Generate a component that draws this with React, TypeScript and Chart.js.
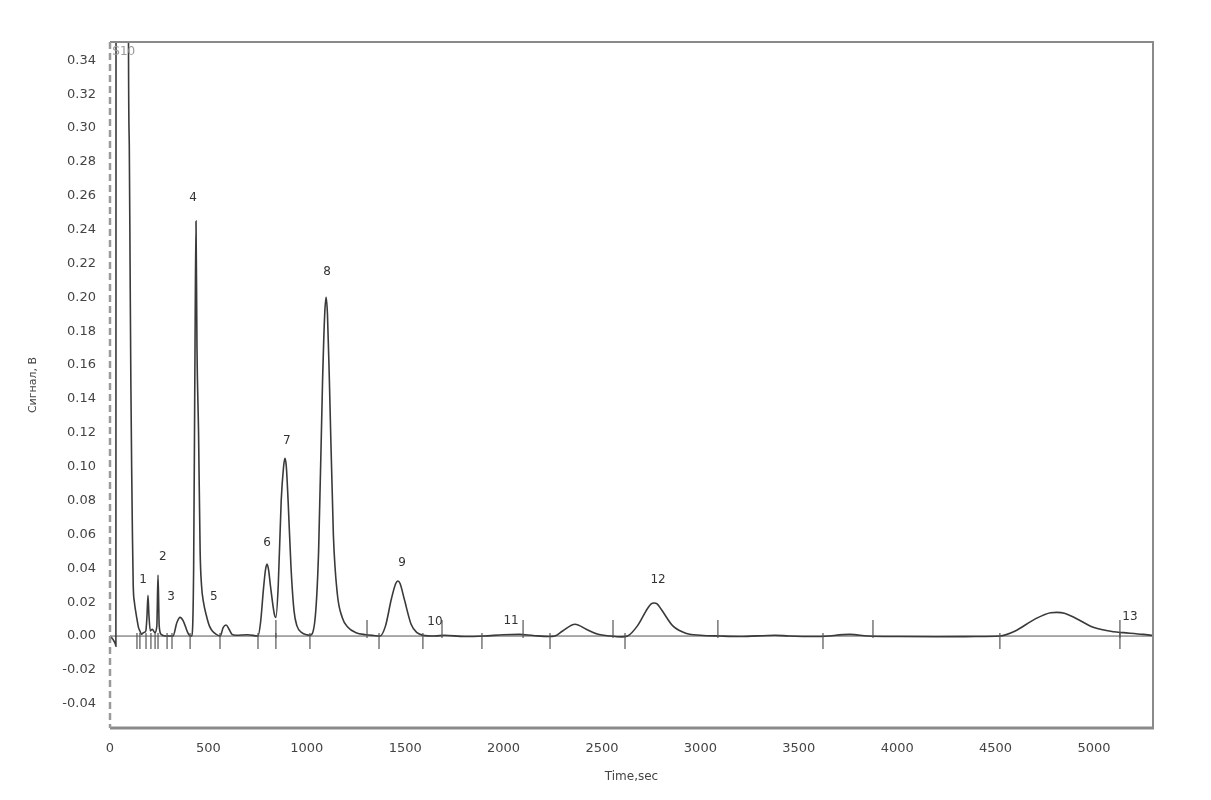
import React, { useEffect, useRef } from "react";
import { Chart, registerables } from "chart.js";

Chart.register(...registerables);

// ---- data (time in seconds, signal in volts) ----
const timeSec = [
  0, 15, 28, 30, 31, 90, 92, 94, 98, 102, 106, 110, 114, 118, 124, 130, 137, 145, 152, 160, 170,
  182, 188, 193, 198, 205, 215, 228, 238, 244, 250, 260, 280, 300,
  320, 340, 356, 372, 395, 408,
  416, 425, 432, 437, 442, 450, 458, 465, 475, 490, 505, 520, 540,
  560, 575, 590, 605, 620, 640, 700, 752,
  765, 780, 790, 798, 806, 815, 835, 843,
  855, 870, 882, 889, 896, 905, 920, 935, 950, 975, 1000, 1016,
  1040, 1060, 1080, 1091, 1098, 1105, 1115, 1135, 1155, 1180, 1210, 1250, 1300, 1340,
  1372, 1400, 1430, 1452, 1463, 1474, 1495, 1530, 1560, 1590,
  1650, 1700, 1800, 1900, 2000, 2080, 2150, 2230,
  2260, 2300, 2363, 2420, 2480, 2540, 2600,
  2630, 2680, 2730, 2750, 2764, 2780, 2800, 2860, 2930, 3000, 3100,
  3200, 3380, 3450, 3600, 3760, 3850, 4000, 4200, 4400, 4522,
  4600, 4700, 4780, 4812, 4850, 4900, 5000, 5100, 5150, 5250, 5300,
];
const signalV = [
  0.0, -0.002, -0.005, -0.006, 0.6, 0.6, 0.6, 0.35, 0.29, 0.22, 0.15, 0.1, 0.06, 0.03, 0.02, 0.015, 0.01, 0.005, 0.003, 0.001, 0.002,
  0.003, 0.012, 0.024, 0.012, 0.003, 0.004, 0.002, 0.006, 0.036, 0.006, 0.001, 0.0, 0.0,
  0.0, 0.008, 0.011, 0.009, 0.002, 0.0,
  0.0, 0.04, 0.17, 0.245, 0.17, 0.12, 0.05, 0.03, 0.02, 0.012, 0.006, 0.003, 0.001,
  0.0, 0.005, 0.0065, 0.004, 0.001, 0.0005, 0.0008, 0.0,
  0.008, 0.028, 0.039, 0.0425, 0.039, 0.03, 0.013, 0.011,
  0.03, 0.08, 0.1, 0.105, 0.1, 0.08, 0.04, 0.015, 0.006, 0.002, 0.0008, 0.0005,
  0.008, 0.05, 0.15, 0.19, 0.2, 0.19, 0.15, 0.06, 0.025, 0.011, 0.005, 0.002, 0.0008, 0.0003,
  0.0, 0.006, 0.022, 0.031, 0.0325, 0.031, 0.022, 0.007, 0.002, 0.0005,
  0.0, 0.0005, -0.0003, 0.0, 0.0008, 0.001, 0.0003, -0.0003,
  0.0, 0.003, 0.007, 0.004, 0.001, 0.0, -0.0005,
  0.0, 0.006, 0.016, 0.019, 0.0195, 0.019, 0.016, 0.006, 0.0015, 0.0005, 0.0,
  -0.0003, 0.0005, 0.0, -0.0003, 0.001, 0.0, -0.0003, -0.0004, -0.0003, 0.0,
  0.003, 0.01, 0.0138, 0.014, 0.0135, 0.011, 0.005, 0.0025, 0.002, 0.001, 0.0003,
];

const xTickValues = [0, 500, 1000, 1500, 2000, 2500, 3000, 3500, 4000, 4500, 5000];
const yTickValues = [-0.04, -0.02, 0, 0.02, 0.04, 0.06, 0.08, 0.1, 0.12, 0.14, 0.16, 0.18, 0.2, 0.22, 0.24, 0.26, 0.28, 0.3, 0.32, 0.34];

const peakLabels = ["1", "2", "3", "4", "5", "6", "7", "8", "9", "10", "11", "12", "13"];
const peakLabelTimes = [168, 269, 310, 422, 528, 798, 899, 1103, 1484, 1651, 2038, 2785, 5183];
const peakLabelValues = [0.033, 0.0466, 0.023, 0.259, 0.023, 0.055, 0.115, 0.215, 0.043, 0.0083, 0.0089, 0.033, 0.0112];

const cornerLabel = "S10";
const cornerLabelTime = 70;
const cornerLabelValue = 0.345;

const markerBelowTimes = [137, 152, 183, 208, 229, 244, 290, 315, 407, 559, 752, 843, 1016, 1367, 1590, 1890, 2236, 2617, 3623, 4522, 5132];
const markerAboveTimes = [843, 1306, 1687, 2099, 2556, 3089, 3877, 5132];

const overlayPlugin = {
  id: "overlay",
  beforeDatasetsDraw(chart: any) {
    const { ctx, chartArea, scales } = chart;
    const y0 = scales.y.getPixelForValue(0);
    ctx.save();
    ctx.strokeStyle = "#555";
    ctx.lineWidth = 1;
    ctx.beginPath();
    ctx.moveTo(chartArea.left, y0);
    ctx.lineTo(chartArea.right, y0);
    ctx.stroke();
    ctx.restore();
  },
  afterDatasetsDraw(chart: any) {
    const { ctx, chartArea, scales } = chart;
    const { left, right, top, bottom } = chartArea;
    const xs = scales.x;
    const ys = scales.y;
    const y0 = ys.getPixelForValue(0);
    ctx.save();
    // integration markers
    ctx.strokeStyle = "#555";
    ctx.lineWidth = 1.2;
    markerBelowTimes.forEach((t) => {
      const px = xs.getPixelForValue(t);
      ctx.beginPath();
      ctx.moveTo(px, y0 - 3);
      ctx.lineTo(px, y0 + 13);
      ctx.stroke();
    });
    markerAboveTimes.forEach((t) => {
      const px = xs.getPixelForValue(t);
      ctx.beginPath();
      ctx.moveTo(px, y0 + 2);
      ctx.lineTo(px, y0 - 16);
      ctx.stroke();
    });
    // peak labels
    ctx.fillStyle = "#333";
    ctx.font = "12px 'DejaVu Sans', sans-serif";
    ctx.textAlign = "center";
    ctx.textBaseline = "middle";
    peakLabels.forEach((lab, i) => {
      ctx.fillText(lab, xs.getPixelForValue(peakLabelTimes[i]), ys.getPixelForValue(peakLabelValues[i]));
    });
    ctx.fillStyle = "#999";
    ctx.fillText(cornerLabel, xs.getPixelForValue(cornerLabelTime), ys.getPixelForValue(cornerLabelValue));
    // frame
    ctx.strokeStyle = "#8a8a8a";
    ctx.lineWidth = 2;
    ctx.setLineDash([]);
    ctx.beginPath();
    ctx.moveTo(left, top);
    ctx.lineTo(right, top);
    ctx.lineTo(right, bottom);
    ctx.stroke();
    ctx.lineWidth = 3;
    ctx.beginPath();
    ctx.moveTo(left, bottom);
    ctx.lineTo(right + 1, bottom);
    ctx.stroke();
    ctx.strokeStyle = "#9a9a9a";
    ctx.lineWidth = 2.5;
    ctx.setLineDash([7, 4]);
    ctx.beginPath();
    ctx.moveTo(left, top);
    ctx.lineTo(left, bottom);
    ctx.stroke();
    ctx.restore();
  },
};

export default function App() {
  const canvasRef = useRef<HTMLCanvasElement | null>(null);

  useEffect(() => {
    if (!canvasRef.current) return;
    const points = timeSec.map((t, i) => ({ x: t, y: signalV[i] }));
    const tickFont = { family: "'DejaVu Sans', sans-serif", size: 13 };
    const chart = new Chart(canvasRef.current, {
      type: "line",
      data: {
        datasets: [
          {
            data: points,
            borderColor: "#3a3a3a",
            borderWidth: 1.6,
            pointRadius: 0,
            cubicInterpolationMode: "monotone",
            fill: false,
          },
        ],
      },
      plugins: [overlayPlugin],
      options: {
        responsive: false,
        animation: false,
        events: [],
        layout: { padding: { left: 0, top: 42, right: 58, bottom: 0 } },
        plugins: { legend: { display: false }, tooltip: { enabled: false } },
        scales: {
          x: {
            type: "linear",
            min: 0,
            max: 5300,
            grid: { display: false, drawTicks: false },
            border: { display: false },
            afterBuildTicks: (scale: any) => {
              scale.ticks = xTickValues.map((v) => ({ value: v }));
            },
            afterFit: (scale: any) => {
              scale.height = 72;
            },
            ticks: {
              color: "#444",
              font: tickFont,
              padding: 13,
              maxRotation: 0,
              autoSkip: false,
              callback: (v: any) => String(v),
            },
            title: {
              display: true,
              text: "Time,sec",
              color: "#444",
              font: { family: "'DejaVu Sans', sans-serif", size: 12 },
              padding: { top: 0, bottom: 16 },
            },
          },
          y: {
            type: "linear",
            min: -0.0543,
            max: 0.3508,
            grid: { display: false, drawTicks: false },
            border: { display: false },
            afterBuildTicks: (scale: any) => {
              scale.ticks = yTickValues.map((v) => ({ value: v }));
            },
            afterFit: (scale: any) => {
              scale.width = 110;
            },
            ticks: {
              color: "#444",
              font: tickFont,
              padding: 14,
              autoSkip: false,
              callback: (v: any) => Number(v).toFixed(2),
            },
            title: {
              display: true,
              text: "Сигнал, В",
              color: "#444",
              font: { family: "'DejaVu Sans', sans-serif", size: 11 },
              padding: { top: 27, bottom: 0 },
            },
          },
        },
      },
    });
    return () => chart.destroy();
  }, []);

  return (
    <div style={{ position: "absolute", left: 0, top: 0, width: 1211, height: 800, background: "#fff" }}>
      <canvas ref={canvasRef} width={1211} height={800} style={{ display: "block" }} />
    </div>
  );
}
